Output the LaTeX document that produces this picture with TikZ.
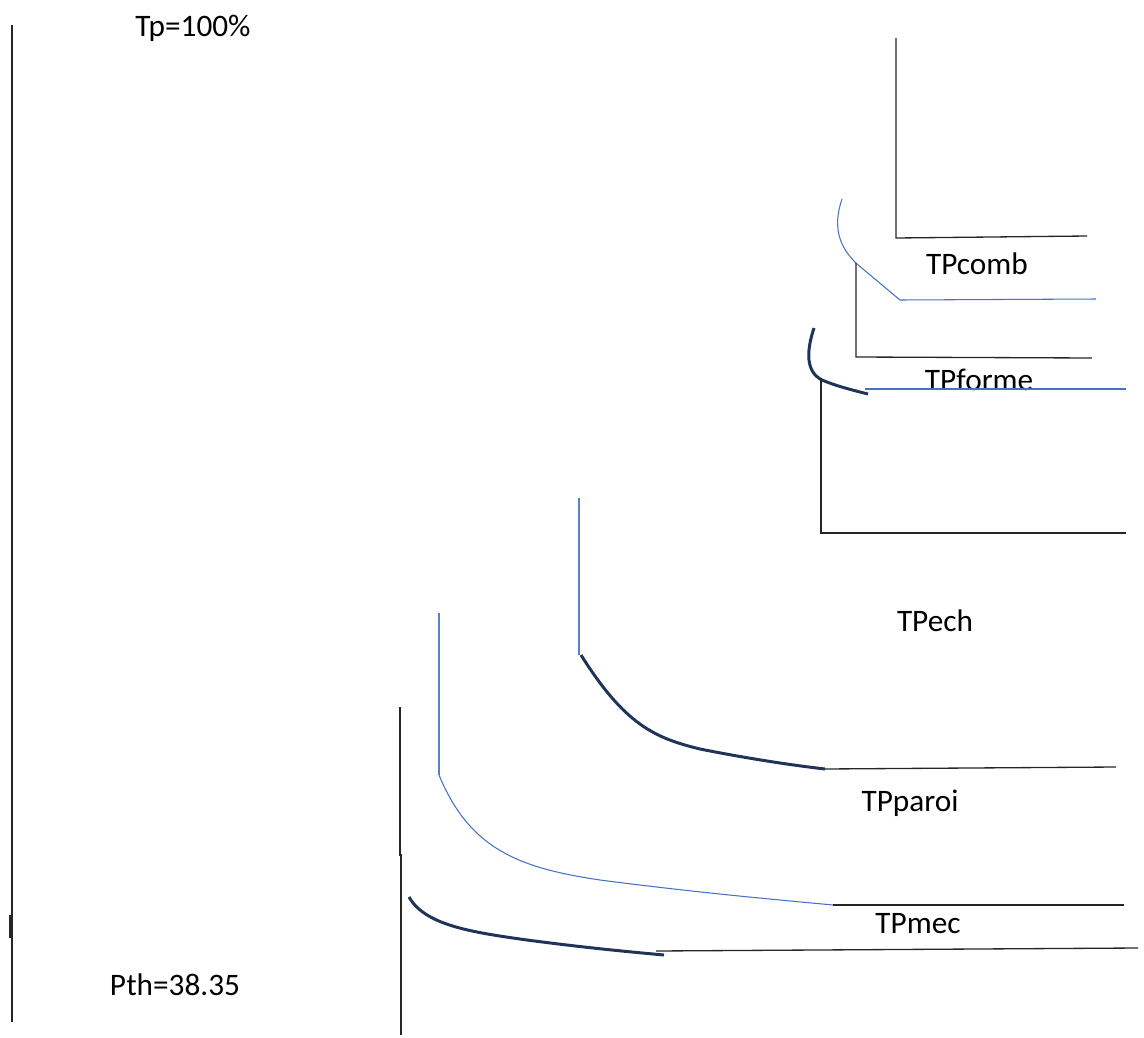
\documentclass[tikz,border=0pt]{standalone}
\usepackage{fontspec}
\setmainfont{Carlito}
\usepackage{xcolor}
\usepackage{tikz}
\usetikzlibrary{calc}
\definecolor{offblue}{HTML}{4472C4}
\definecolor{navy}{HTML}{1F3458}

\begin{document}
\begin{tikzpicture}[
  x=0.02cm, y=-0.02cm,
  lbl/.style={inner sep=0pt, font=\fontsize{17.8}{20}\selectfont},
  axis/.style={line width=0.7pt, black!85},
  lvl/.style={line width=0.75pt, black!85},
  bluev/.style={line width=1.1pt, offblue!90},
  bluec/.style={line width=0.6pt, offblue},
  navyc/.style={line width=1.7pt, navy}]
  \useasboundingbox (0,0) rectangle (1144,1038);
  % axis
  \draw[axis] (12,25) -- (12,1022);
  \draw[axis] (10,915) -- (10,938);
  \node[lbl] (tp) at (193,28) {Tp=100\%};
  \node[lbl] (pth) at (175,985) {Pth=38.35};
  % combustion
  \coordinate (c1) at (896,38);
  \coordinate (c2) at (896,238);
  \coordinate (c3) at (1087,236);
  \draw[lvl] (c1) -- (c2) -- (c3);
  \node[lbl] (comb) at (977,264) {TPcomb};
  \draw[bluec] (842,199) .. controls (832,228) and (840,248) .. (857,264) -- (900,300) -- (1096,299);
  % forme
  \coordinate (f1) at (856,263);
  \coordinate (f2) at (856,357);
  \coordinate (f3) at (1092,358);
  \draw[lvl] (f1) -- (f2) -- (f3);
  \node[lbl] (forme) at (979,380) {TPforme};
  \draw[bluec] (865,389) -- (1126,389);
  \draw[navyc] (814,328) .. controls (806,352) and (806,372) .. (822,380) .. controls (836,386) and (852,390) .. (868,394);
  % echappement
  \coordinate (e1) at (821,378);
  \coordinate (e2) at (821,533);
  \coordinate (e3) at (1126,533);
  \draw[lvl] (e1) -- (e2) -- (e3);
  \node[lbl] (ech) at (935,621) {TPech};
  \draw[bluev] (579,498) -- (579,655);
  \draw[navyc] (581,655) .. controls (625,725) and (655,738) .. (700,749) .. controls (745,758) and (790,765) .. (825,769);
  \draw[lvl] (825,769) -- (1116,767);
  % paroi
  \node[lbl] (paroi) at (910,803) {TPparoi};
  \draw[bluev] (439,613) -- (439,775);
  \draw[bluec] (439,775) .. controls (470,850) and (520,868) .. (600,880) .. controls (700,893) and (780,900) .. (833,905);
  \draw[lvl] (833,905) -- (1124,905);
  % mecanique
  \node[lbl] (mec) at (918,924) {TPmec};
  \draw[axis] (400,707) -- (400,856);
  \draw[axis] (401,854) -- (401,1035);
  \draw[navyc] (409,897) .. controls (425,925) and (470,932) .. (527,940) .. controls (580,947) and (620,951) .. (664,955);
  \draw[lvl] (656,951) -- (1138,948);
\end{tikzpicture}
\end{document}
